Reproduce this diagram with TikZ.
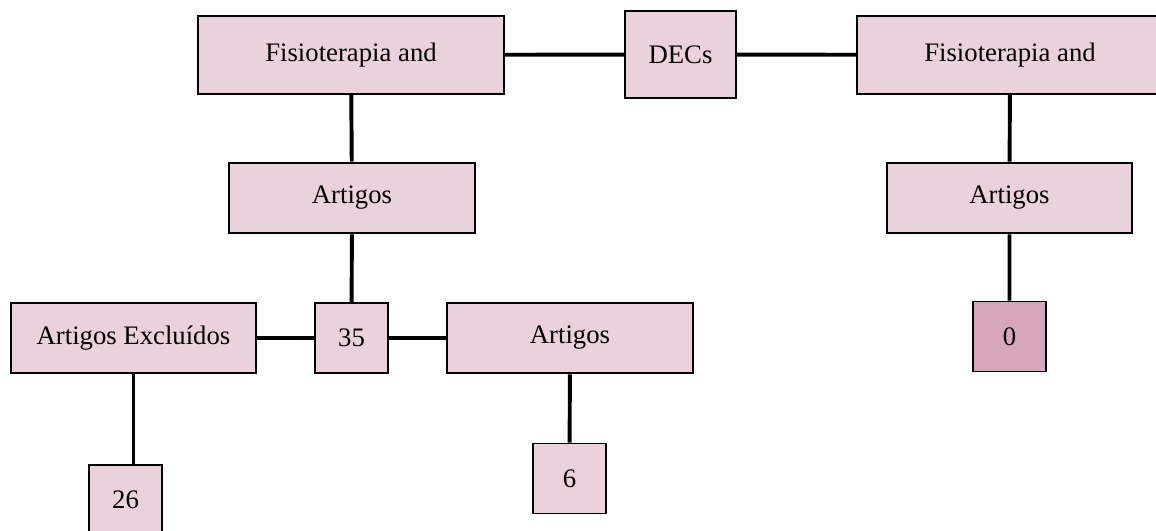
\documentclass[tikz,border=0pt]{standalone}
\usepackage{fontspec}
\setmainfont{Liberation Serif}
\usepackage{xcolor}
\usetikzlibrary{positioning}
\definecolor{rosa}{HTML}{EAD1DC}
\definecolor{rosaescuro}{HTML}{D5A6BD}

\begin{document}
\begin{tikzpicture}
		[x = 0.025cm, y = -0.025cm,
		caixa/.style = {draw, line width = 1.3pt, fill = rosa, inner sep = 0pt,
			font = \fontsize{19}{23}\selectfont},
		larga/.style = {caixa, minimum width = 7.65cm, minimum height = 1.95cm},
		media/.style = {caixa, minimum width = 6.14cm, minimum height = 1.77cm},
		pequena/.style = {caixa, minimum width = 1.82cm, minimum height = 1.75cm},
		liga/.style = {line width = 2.8pt}]
		\clip (0, 0) rectangle (1156, 531);
		\path	(351, 55)    node[larga] (fisioL) {Fisioterapia and}
				(680.5, 54.5) node[caixa, minimum width = 2.78cm, minimum height = 2.18cm] (decs) {DECs}
				(1010, 55)   node[larga] (fisioR) {Fisioterapia and}
				(352, 198)   node[media] (artL) {Artigos}
				(1009.5, 198) node[media] (artR) {Artigos}
				(133.5, 338) node[media] (excl) {Artigos Excluídos}
				(351.5, 338) node[pequena] (n35) {35}
				(570, 338)   node[media] (artB) {Artigos}
				(1009.5, 336.5) node[pequena, fill = rosaescuro] (n0) {0}
				(125.5, 500) node[pequena] (n26) {26}
				(569.5, 478.5) node[pequena] (n6) {6} ;
		\draw[liga] (fisioL) -- (decs) -- (fisioR);
		\draw[liga] (fisioL) -- (artL) -- (n35);
		\draw[liga] (excl) -- (n35) -- (artB);
		\draw[liga] (excl.south) -- (excl.south |- n26.north);
		\draw[liga] (artB) -- (n6);
		\draw[liga] (fisioR) -- (artR) -- (n0);
	\end{tikzpicture}
\end{document}
